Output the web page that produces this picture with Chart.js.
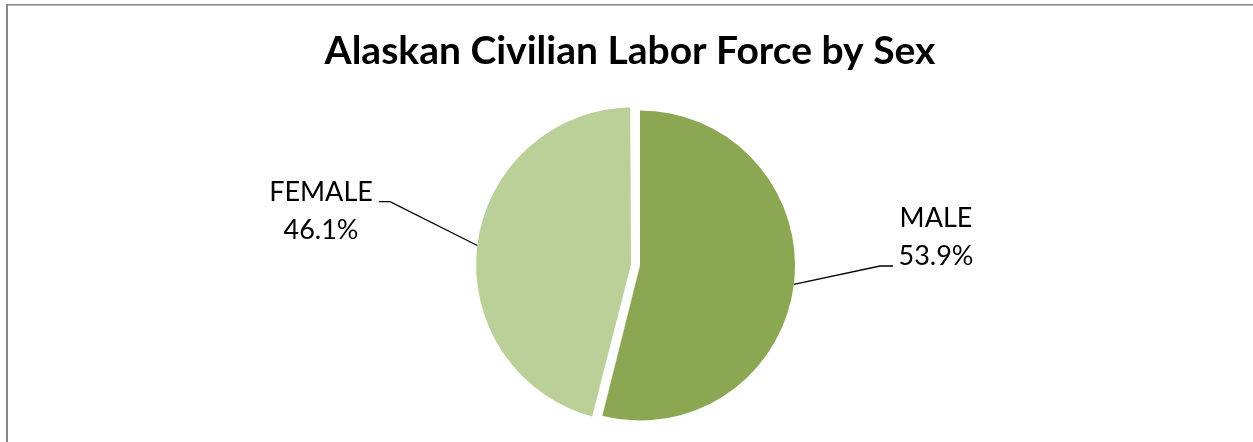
<!DOCTYPE html>
<html><head><meta charset="utf-8">
<script src="https://cdn.jsdelivr.net/npm/chart.js@4.4.1/dist/chart.umd.min.js"></script>
<style>html,body{margin:0;padding:0;background:#fff;overflow:hidden;} canvas{display:block;}</style>
</head><body>
<canvas id="c" width="1253" height="442"></canvas>
<script>
const categories = ['MALE', 'FEMALE'];
const shares = [53.9, 46.1];
const valueLabels = ['53.9%', '46.1%'];
const titleText = 'Alaskan Civilian Labor Force by Sex';

const sliceColors = ['#8BA752', '#BBCF99'];
const sliceOffsets = [0, 26];
const sliceBorders = [0, 5.1];
// label placement relative to pie centre (pixels)
const labelLayout = [
  { elbow: [240, 0.5], end: [253, 0.5], textX: 296, base1: -38.8, base2: -0.5 },
  { elbow: [-250, -63.8], end: [-261, -63.8], textX: -319, base1: -64.8, base2: -26.5 }
];

const decorPlugin = {
  id: 'decor',
  beforeDraw(chart) {
    const ctx = chart.ctx;
    ctx.save();
    ctx.fillStyle = '#fff';
    ctx.fillRect(0, 0, chart.width, chart.height);
    ctx.fillStyle = '#878787';
    ctx.fillRect(6, 4, chart.width - 6, 1.5);
    ctx.fillRect(6, 4, 2, chart.height - 4);
    ctx.restore();
  },
  afterDraw(chart) {
    const ctx = chart.ctx;
    ctx.save();
    // title
    ctx.fillStyle = '#000';
    ctx.font = 'bold 39px Lato';
    ctx.textAlign = 'center';
    ctx.textBaseline = 'alphabetic';
    ctx.fillText(titleText, 630, 63.5);

    const meta = chart.getDatasetMeta(0);
    meta.data.forEach((arc, i) => {
      const p = arc.getProps(['x', 'y', 'startAngle', 'endAngle', 'outerRadius', 'circumference'], true);
      const mid = (p.startAngle + p.endAngle) / 2;
      const t = (arc.options.offset || 0) / 4;
      const fix = 1 - Math.sin(Math.min(Math.PI, p.circumference || 0));
      const r = t + p.outerRadius + t * fix - (arc.options.borderWidth || 0) / 2;
      const sx = p.x + r * Math.cos(mid);
      const sy = p.y + r * Math.sin(mid);
      const L = labelLayout[i];
      ctx.strokeStyle = '#000';
      ctx.lineWidth = 1.3;
      ctx.beginPath();
      ctx.moveTo(sx, sy);
      ctx.lineTo(p.x + L.elbow[0], p.y + L.elbow[1]);
      ctx.lineTo(p.x + L.end[0], p.y + L.end[1]);
      ctx.stroke();
      ctx.fillStyle = '#000';
      ctx.font = '27px Lato';
      ctx.textAlign = 'center';
      ctx.fillText(categories[i], p.x + L.textX, p.y + L.base1);
      ctx.fillText(valueLabels[i], p.x + L.textX, p.y + L.base2);
    });
    ctx.restore();
  }
};

new Chart(document.getElementById('c'), {
  type: 'pie',
  data: {
    labels: categories,
    datasets: [{
      data: shares,
      backgroundColor: sliceColors,
      borderColor: '#ffffff',
      borderWidth: sliceBorders,
      offset: sliceOffsets,
      radius: 155
    }]
  },
  options: {
    responsive: false,
    animation: false,
    layout: { padding: { left: 27, top: 89, right: 0, bottom: 0 } },
    plugins: {
      legend: { display: false },
      tooltip: { enabled: false },
      title: { display: false }
    }
  },
  plugins: [decorPlugin]
});
</script>
</body></html>
